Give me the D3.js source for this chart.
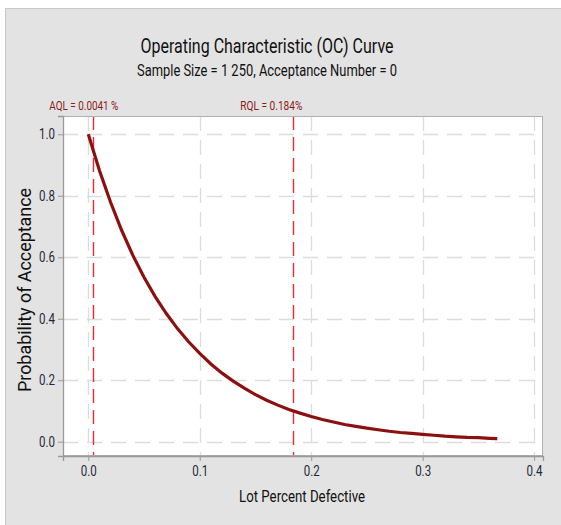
<!DOCTYPE html>
<html>
<head>
<meta charset="utf-8">
<script src="https://cdn.jsdelivr.net/npm/d3@7"></script>
<style>
  body { margin: 0; background: #fff; }
  svg text { font-family: Roboto, "Noto Sans", sans-serif; }
</style>
</head>
<body>
<svg id="chart" width="561" height="525"></svg>
<script>
// lot percent defective vs probability of acceptance
const pct_defective = [0.00, 0.01, 0.02, 0.03, 0.04, 0.05, 0.06, 0.07, 0.08, 0.09,
    0.10, 0.11, 0.12, 0.13, 0.14, 0.15, 0.16, 0.17, 0.18, 0.19,
    0.20, 0.21, 0.22, 0.23, 0.24, 0.25, 0.26, 0.27, 0.28, 0.29,
    0.30, 0.31, 0.32, 0.33, 0.34, 0.35, 0.36, 0.367];
const prob_accept = [1.000, 0.882, 0.779, 0.687, 0.606, 0.535, 0.472, 0.417, 0.368, 0.325,
    0.287, 0.253, 0.223, 0.197, 0.174, 0.153, 0.135, 0.119, 0.105, 0.093,
    0.082, 0.072, 0.064, 0.056, 0.050, 0.044, 0.039, 0.034, 0.030, 0.027,
    0.024, 0.021, 0.018, 0.016, 0.014, 0.013, 0.011, 0.010];

const x_ticks = [0.0, 0.1, 0.2, 0.3, 0.4];
const y_ticks = [0.0, 0.2, 0.4, 0.6, 0.8, 1.0];

const ref_values = [0.0041, 0.184];
const ref_labels = ["AQL = 0.0041 %", "RQL = 0.184%"];

const title_text = "Operating Characteristic (OC) Curve";
const subtitle_text = "Sample Size = 1 250, Acceptance Number = 0";
const x_title = "Lot Percent Defective";
const y_title = "Probability of Acceptance";

const svg = d3.select("#chart");
const plot_left = 63, plot_right = 543, plot_top = 116, plot_bottom = 456;

// narrow text helper - the reference uses a condensed face
function squeeze(sel, w) {
    sel.attr("textLength", w).attr("lengthAdjust", "spacingAndGlyphs");
}

// outer panel
svg.append("rect")
    .attr("x", 5.5).attr("y", 8.5)
    .attr("width", 570).attr("height", 530)
    .attr("fill", "#e3e3e3")
    .attr("stroke", "#c8c8c8");

svg.append("rect")
    .attr("x", plot_left).attr("y", plot_top)
    .attr("width", plot_right - plot_left).attr("height", plot_bottom - plot_top)
    .attr("fill", "#fff");

const x = d3.scaleLinear().domain([-0.0227, 0.408]).range([plot_left, plot_right]);
const y = d3.scaleLinear().domain([-0.0465, 1.0595]).range([plot_bottom, plot_top]);

// grid
const grid = svg.append("g");
grid.selectAll(".gx")
    .data(x_ticks)
    .enter()
    .append("line")
    .attr("x1", d => Math.round(x(d)) + 0.5)
    .attr("x2", d => Math.round(x(d)) + 0.5)
    .attr("y1", plot_top)
    .attr("y2", plot_bottom)
    .attr("stroke", "#dcdcdc")
    .attr("stroke-width", 1.3)
    .attr("stroke-dasharray", "15,9");
grid.selectAll(".gy")
    .data(y_ticks)
    .enter()
    .append("line")
    .attr("x1", plot_left)
    .attr("x2", plot_right)
    .attr("y1", d => Math.round(y(d)) + 0.5)
    .attr("y2", d => Math.round(y(d)) + 0.5)
    .attr("stroke", "#dcdcdc")
    .attr("stroke-width", 1.3)
    .attr("stroke-dasharray", "15,9");

// reference lines AQL / RQL
svg.append("g")
    .selectAll("line")
    .data(ref_values)
    .enter()
    .append("line")
    .attr("x1", d => Math.round(x(d)) + 0.5)
    .attr("x2", d => Math.round(x(d)) + 0.5)
    .attr("y1", plot_top)
    .attr("y2", plot_bottom)
    .attr("stroke", "#ee2a30")
    .attr("stroke-width", 1.4)
    .attr("stroke-dasharray", "14,7");

const label_shift = [-9, -22];
const label_width = [69, 62];
svg.append("g")
    .selectAll("text")
    .data(ref_values)
    .enter()
    .append("text")
    .attr("x", (d, i) => x(d) + label_shift[i])
    .attr("y", 110)
    .attr("text-anchor", "middle")
    .attr("font-size", 12.5)
    .attr("fill", "#8b1a1a")
    .text((d, i) => ref_labels[i])
    .each(function (d, i) { squeeze(d3.select(this), label_width[i]); });

// OC curve
const line = d3.line()
    .x((d, i) => x(d))
    .y((d, i) => y(prob_accept[i]));

svg.append("path")
    .datum(pct_defective)
    .attr("d", line)
    .attr("fill", "none")
    .attr("stroke", "#8b1111")
    .attr("stroke-width", 3.2);

// plot frame
svg.append("rect")
    .attr("x", plot_left + 0.5).attr("y", plot_top + 0.5)
    .attr("width", plot_right - plot_left - 1).attr("height", plot_bottom - plot_top - 1)
    .attr("fill", "none")
    .attr("stroke", "#b0b0b0");

// axes
const x_axis = svg.append("g")
    .attr("transform", `translate(0,${plot_bottom})`)
    .call(d3.axisBottom(x).tickValues(x_ticks).tickFormat(d3.format(".1f")).tickSize(5).tickPadding(5));
const y_axis = svg.append("g")
    .attr("transform", `translate(${plot_left},0)`)
    .call(d3.axisLeft(y).tickValues(y_ticks).tickFormat(d3.format(".1f")).tickSize(5).tickPadding(3));

[x_axis, y_axis].forEach(ax => {
    ax.select(".domain").attr("stroke", "#999").attr("stroke-width", 1.3);
    ax.selectAll(".tick line").attr("stroke", "#999");
    ax.selectAll(".tick text")
        .attr("font-size", 14.5)
        .attr("fill", "#1e2a3a")
        .style("font-family", "Roboto, sans-serif")
        .call(squeeze, 16);
});

// titles
svg.append("text")
    .attr("x", 267).attr("y", 53)
    .attr("text-anchor", "middle")
    .attr("font-size", 20.5)
    .attr("fill", "#111")
    .text(title_text)
    .call(squeeze, 253);

svg.append("text")
    .attr("x", 267).attr("y", 76)
    .attr("text-anchor", "middle")
    .attr("font-size", 16.5)
    .attr("fill", "#111")
    .text(subtitle_text)
    .call(squeeze, 260);

svg.append("text")
    .attr("x", 302).attr("y", 502)
    .attr("text-anchor", "middle")
    .attr("font-size", 16.5)
    .attr("fill", "#111")
    .text(x_title)
    .call(squeeze, 126);

svg.append("text")
    .attr("transform", "translate(31,290) rotate(-90)")
    .attr("text-anchor", "middle")
    .attr("font-size", 17.5)
    .attr("fill", "#111")
    .text(y_title)
    .call(squeeze, 204);
</script>
</body>
</html>
